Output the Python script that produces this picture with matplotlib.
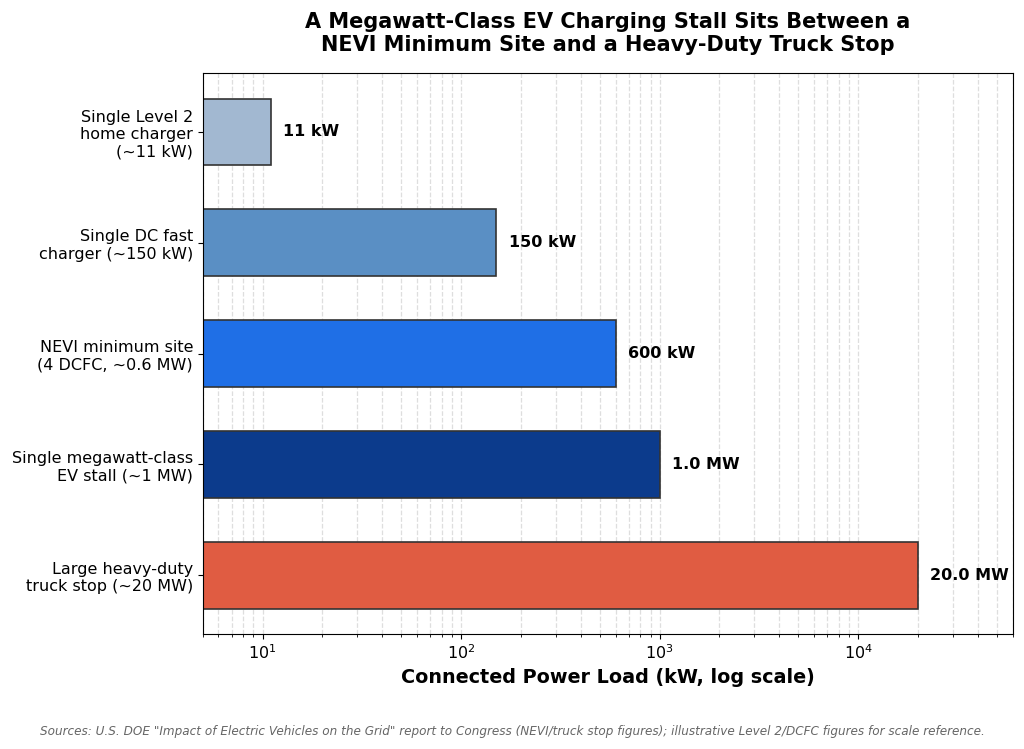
import numpy as np
import matplotlib
matplotlib.use("Agg")
import matplotlib.pyplot as plt

# Data
categories = [
    "Single Level 2\nhome charger\n(~11 kW)",
    "Single DC fast\ncharger (~150 kW)",
    "NEVI minimum site\n(4 DCFC, ~0.6 MW)",
    "Single megawatt-class\nEV stall (~1 MW)",
    "Large heavy-duty\ntruck stop (~20 MW)",
]
load_kw = [11, 150, 600, 1000, 20000]
value_labels = ["11 kW", "150 kW", "600 kW", "1.0 MW", "20.0 MW"]
colors = ["#a2b8d1", "#5a8fc4", "#1f6fe6", "#0c3b8c", "#e05c42"]

fig = plt.figure(figsize=(10.24, 7.49), dpi=100)
ax = fig.add_axes([0.198, 0.1535, 0.791, 0.749])

y = np.arange(len(categories))
ax.barh(y, load_kw, height=0.6, color=colors, edgecolor="#333333",
        linewidth=1.2, zorder=2)

for yi, v, lab in zip(y, load_kw, value_labels):
    ax.annotate(lab, xy=(v, yi), xytext=(9, 0), textcoords="offset points",
                ha="left", va="center", fontsize=11.5, fontweight="bold")

ax.set_xscale("log")
ax.set_xlim(5, 60000)
ax.set_yticks(y)
ax.set_yticklabels(categories, fontsize=11.5)
ax.invert_yaxis()

# dashed grid, drawn faintly over the bars too
ax.grid(True, axis="x", which="both", linestyle="--", color="#c8c8c8",
        alpha=0.6, linewidth=0.9, zorder=3)
ax.tick_params(axis="x", labelsize=11.5)

ax.set_xlabel("Connected Power Load (kW, log scale)", fontsize=13.8,
              fontweight="bold")
ax.set_title("A Megawatt-Class EV Charging Stall Sits Between a\n"
             "NEVI Minimum Site and a Heavy-Duty Truck Stop",
             fontsize=15, fontweight="bold", pad=16)

fig.text(0.5, 0.024,
         'Sources: U.S. DOE "Impact of Electric Vehicles on the Grid" report to Congress '
         '(NEVI/truck stop figures); illustrative Level 2/DCFC figures for scale reference.',
         ha="center", va="center", fontsize=8.65, style="italic", color="#666666")

fig.savefig("out.png", dpi=100)
